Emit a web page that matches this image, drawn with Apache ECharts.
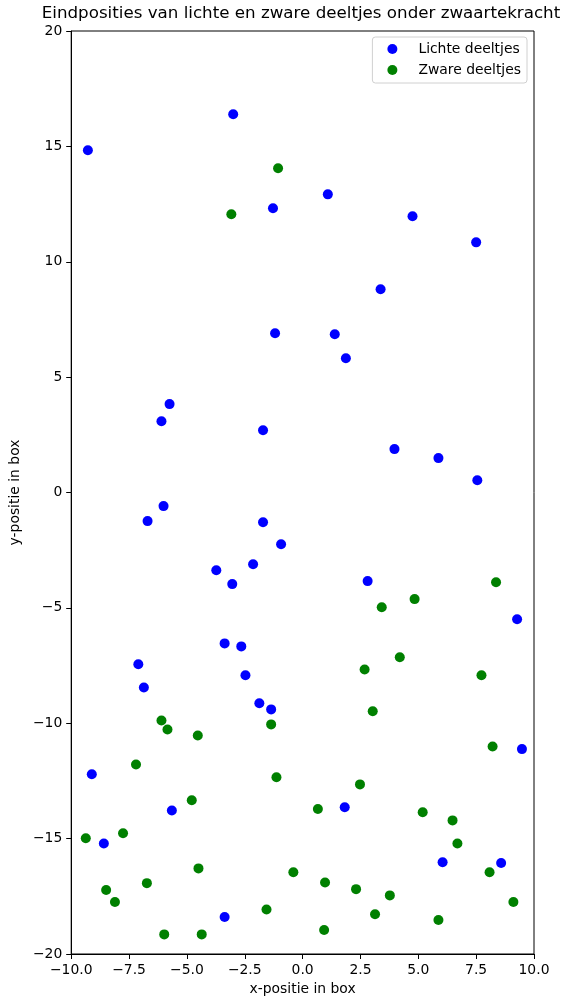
<!DOCTYPE html>
<html>
<head>
<meta charset="utf-8">
<script src="https://cdn.jsdelivr.net/npm/echarts@6/dist/echarts.min.js"></script>
<style>
html,body{margin:0;padding:0;background:#fff;}
#chart{width:570px;height:1007px;}
</style>
</head>
<body>
<div id="chart"></div>
<script>
var lightX = [-9.28,-3.00,-1.28,1.09,4.75,7.50,3.37,-1.19,1.39,1.87,-5.75,-6.10,-1.71,3.97,5.87,7.55,-6.01,-6.70,-1.71,-0.93,-3.73,-2.14,-3.04,2.81,9.27,-3.37,-2.65,-7.10,-2.47,-6.86,-1.87,-1.36,9.48,-9.11,-5.65,1.82,-8.59,6.05,8.58,-3.37];
var lightY = [14.83,16.39,12.32,12.92,11.97,10.84,8.81,6.90,6.86,5.82,3.83,3.09,2.70,1.88,1.49,0.53,-0.59,-1.24,-1.29,-2.24,-3.37,-3.11,-3.97,-3.84,-5.49,-6.54,-6.67,-7.44,-7.92,-8.45,-9.13,-9.40,-11.12,-12.21,-13.78,-13.64,-15.21,-16.02,-16.06,-18.40];
var heavyX = [-1.06,-3.08,8.36,3.42,4.84,2.68,4.20,7.73,3.03,-6.10,-5.84,-1.36,-4.53,8.21,-7.20,-1.13,2.48,-4.79,-9.37,-7.76,0.66,5.19,6.48,6.69,-4.50,-0.40,8.08,-6.73,0.97,-8.49,2.31,3.77,-8.11,9.11,-1.56,3.13,5.87,-5.98,-4.36,0.93];
var heavyY = [14.05,12.06,-3.89,-4.97,-4.62,-7.67,-7.14,-7.92,-9.48,-9.88,-10.27,-10.05,-10.53,-11.01,-11.79,-12.34,-12.65,-13.34,-14.98,-14.77,-13.72,-13.86,-14.21,-15.21,-16.29,-16.46,-16.46,-16.93,-16.90,-17.23,-17.19,-17.46,-17.75,-17.75,-18.07,-18.28,-18.53,-19.15,-19.15,-18.96];
var seriesNames = ['Lichte deeltjes','Zware deeltjes'];
var titleText = 'Eindposities van lichte en zware deeltjes onder zwaartekracht';
var xName = 'x-positie in box';
var yName = 'y-positie in box';

function pairs(xs, ys){ return xs.map(function(x,i){ return [x, ys[i]]; }); }
var font = 'DejaVu Sans';
var fs = 13.9;
var chart = echarts.init(document.getElementById('chart'), null, {renderer:'canvas'});
chart.setOption({
  animation:false,
  backgroundColor:'#fff',
  textStyle:{fontFamily:font},
  title:{text:titleText,left:301,top:5,textAlign:'center',padding:0,
    textStyle:{fontFamily:font,fontSize:16.7,fontWeight:'normal',color:'#000'}},
  legend:{orient:'vertical',right:43,top:37,
    backgroundColor:'#fff',borderColor:'#d0d0d0',borderWidth:1,borderRadius:3,
    padding:[5,6,6,15],itemGap:7,itemWidth:10,itemHeight:14,icon:'circle',
    textStyle:{fontFamily:font,fontSize:fs,color:'#000',lineHeight:14,padding:[0,0,0,16]},
    data:seriesNames},
  grid:{left:69,right:36,top:31,bottom:53,show:true,borderColor:'#000',borderWidth:1,containLabel:false},
  xAxis:{type:'value',min:-10,max:10,interval:2.5,
    name:xName,nameLocation:'middle',nameGap:28,
    nameTextStyle:{fontFamily:font,fontSize:fs,color:'#000'},
    axisLine:{show:true,onZero:false,lineStyle:{color:'#000'}},
    axisTick:{show:true,inside:false,length:5,lineStyle:{color:'#000'}},
    splitLine:{show:false},
    axisLabel:{fontFamily:font,fontSize:fs,color:'#000',margin:9,showMinLabel:true,showMaxLabel:true,
      formatter:function(v){return v.toFixed(1).replace('-','\u2212');}}},
  yAxis:{type:'value',min:-20,max:20,interval:5,
    name:yName,nameLocation:'middle',nameGap:42,
    nameTextStyle:{fontFamily:font,fontSize:fs,color:'#000'},
    axisLine:{show:true,onZero:false,lineStyle:{color:'#000'}},
    axisTick:{show:true,inside:false,length:5,lineStyle:{color:'#000'}},
    splitLine:{show:false},
    axisLabel:{fontFamily:font,fontSize:fs,color:'#000',margin:9,
      formatter:function(v){return String(v).replace('-','\u2212');}}},
  series:[
    {name:seriesNames[0],type:'scatter',symbol:'circle',symbolSize:10,
     itemStyle:{color:'#0000ff',opacity:1},data:pairs(lightX,lightY)},
    {name:seriesNames[1],type:'scatter',symbol:'circle',symbolSize:10,
     itemStyle:{color:'#008000',opacity:1},data:pairs(heavyX,heavyY)}
  ]
});
</script>
</body>
</html>
